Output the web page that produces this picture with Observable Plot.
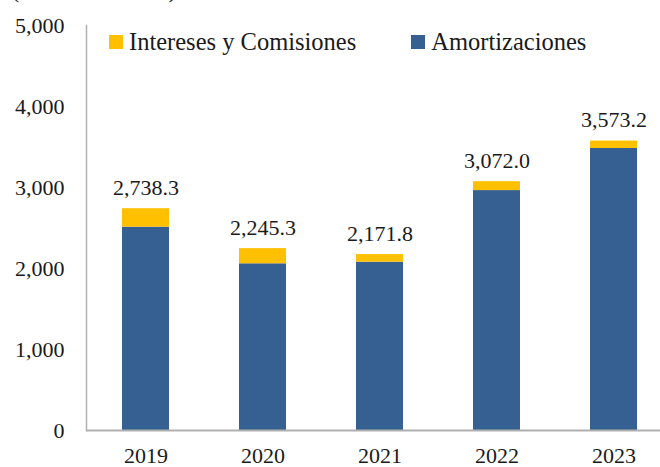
<!DOCTYPE html>
<html>
<head>
<meta charset="utf-8">
<script src="https://cdn.jsdelivr.net/npm/d3@7"></script>
<script src="https://cdn.jsdelivr.net/npm/@observablehq/plot@0.6"></script>
<style>
  html, body { margin: 0; padding: 0; background: #fff; overflow: hidden; }
  #wrap { position: relative; width: 660px; height: 467px; overflow: hidden; font-family: "Liberation Serif", "DejaVu Serif", serif; color: #1a1a1a; }
  #title { position: absolute; left: 12px; top: -22px; font-size: 22px; white-space: nowrap; }
  #legend { position: absolute; top: 28px; left: 109px; font-size: 24.5px; display: flex; white-space: nowrap; }
  .item { display: flex; align-items: center; }
  .sw { width: 14px; height: 14px; margin-right: 6px; }
</style>
</head>
<body>
<div id="wrap">
  <div id="chart"></div>
  <div id="title">(Millones de US$)</div>
  <div id="legend"></div>
</div>
<script>
const years = ["2019", "2020", "2021", "2022", "2023"];
const totals = [2738.3, 2245.3, 2171.8, 3072.0, 3573.2];
const amortizaciones = [2510.0, 2058.0, 2078.0, 2962.0, 3482.0];
const intereses = [228.3, 187.3, 93.8, 110.0, 91.2];
const seriesNames = ["Amortizaciones", "Intereses y Comisiones"];
const seriesColors = ["#376092", "#FFC000"];
const legendOrder = ["Intereses y Comisiones", "Amortizaciones"];
const yTicks = [0, 1000, 2000, 3000, 4000, 5000];

const rows = [];
years.forEach((y, i) => {
  rows.push({year: y, serie: seriesNames[0], value: amortizaciones[i]});
  rows.push({year: y, serie: seriesNames[1], value: intereses[i]});
});
const totalRows = years.map((y, i) => ({year: y, total: totals[i]}));

const fmt = d3.format(",.1f");
const fmt0 = d3.format(",.0f");

const chart = Plot.plot({
  width: 660,
  height: 467,
  marginTop: 25,
  marginBottom: 37,
  marginLeft: 86,
  marginRight: 0,
  style: {fontFamily: "'Liberation Serif', 'DejaVu Serif', serif", fontSize: "22px", color: "#1a1a1a", background: "#fff", overflow: "hidden"},
  x: {domain: years, range: [86, 672], paddingInner: 0.6, paddingOuter: 0.3, label: null},
  y: {domain: [0, 5000], label: null},
  color: {domain: seriesNames, range: seriesColors},
  marks: [
    Plot.barY(rows, Plot.stackY({x: "year", y: "value", fill: "serie", order: seriesNames})),
    Plot.frame({anchor: "left", stroke: "#b0b0b0", strokeWidth: 1.5}),
    Plot.ruleY([0], {stroke: "#b0b0b0", strokeWidth: 2}),
    Plot.axisY({ticks: yTicks, tickSize: 0, tickPadding: 22, tickFormat: fmt0, fontSize: 22, label: null}),
    Plot.axisX({tickSize: 0, tickPadding: 17, fontSize: 22, label: null}),
    Plot.text(totalRows, {x: "year", y: "total", text: d => fmt(d.total), lineAnchor: "bottom", dy: -14, fontSize: 22, fill: "#1a1a1a"})
  ]
});
document.getElementById("chart").appendChild(chart);

const legend = document.getElementById("legend");
legendOrder.forEach((name, i) => {
  const it = document.createElement("div");
  it.className = "item";
  it.style.marginRight = i === 0 ? "55px" : "0";
  const sw = document.createElement("div");
  sw.className = "sw";
  sw.style.background = seriesColors[seriesNames.indexOf(name)];
  const t = document.createElement("span");
  t.textContent = name;
  it.appendChild(sw);
  it.appendChild(t);
  legend.appendChild(it);
});
</script>
</body>
</html>
